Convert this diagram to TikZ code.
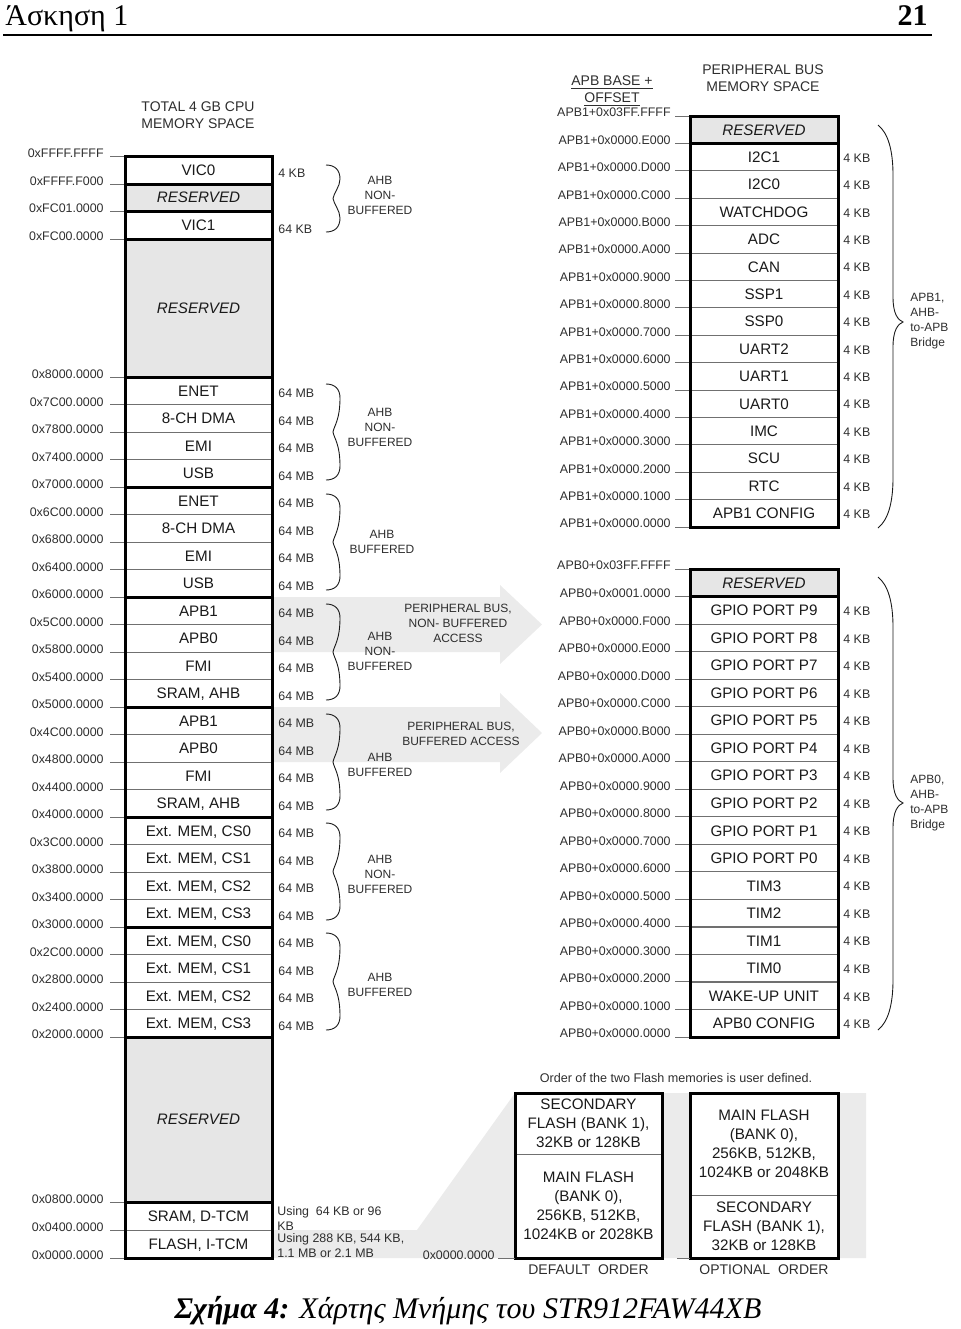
\documentclass[tikz,border=0pt]{standalone}
\usepackage{fontspec}
\setmainfont{Liberation Serif}
\setsansfont{Liberation Sans}
\usepackage{tikz}
\usetikzlibrary{arrows.meta,positioning,calc}
\definecolor{ink}{HTML}{1A1A1A}
\definecolor{labelgray}{HTML}{2E2E2E}
\definecolor{linegray}{HTML}{707070}
\definecolor{resfill}{HTML}{E6E6E6}
\definecolor{busfill}{HTML}{EBEBEB}
\tikzset{
  cell/.style={draw=linegray, line width=0.5pt, fill=white, inner sep=0pt, font=\sffamily\fontsize{7.6}{9}\selectfont, text=ink, text height=5.44pt, text depth=0pt},
  cpucell/.style={cell, minimum width=73.5pt, minimum height=13.75pt},
  apbcell/.style={cell, minimum width=74pt, minimum height=13.7pt},
  rescell/.style={fill=resfill, font=\sffamily\itshape\fontsize{7.6}{9}\selectfont},
  flashcell/.style={draw=linegray, line width=0.5pt, fill=white, inner sep=0pt, align=center, font=\sffamily\fontsize{7.6}{9.5}\selectfont, text=ink},
  groupline/.style={draw=black, line width=1.5pt},
  addrlabel/.style={font=\sffamily\fontsize{6.2}{7.5}\selectfont, text=labelgray, anchor=east, inner sep=0pt, text height=4.45pt, text depth=0pt},
  sizelabel/.style={font=\sffamily\fontsize{6.2}{7.5}\selectfont, text=labelgray, anchor=west, inner sep=0pt, text height=4.45pt, text depth=0pt},
  usagenote/.style={font=\sffamily\fontsize{6.2}{7.5}\selectfont, text=labelgray, anchor=west, inner sep=0pt, align=left},
  busnote/.style={font=\sffamily\fontsize{6}{7.5}\selectfont, text=labelgray, align=center, inner sep=0pt},
  spacehead/.style={font=\sffamily\fontsize{7}{8.5}\selectfont, text=labelgray, align=center, inner sep=0pt},
  addrtick/.style={draw=linegray, line width=0.5pt},
  bracepath/.style={draw=ink, line width=0.45pt},
  busarrow/.style={fill=busfill, draw=none}
}
\newcommand{\ahbbrace}[2]{%
  \draw[bracepath] (326,#1) .. controls (335,#1) and (340,{#1+5}) .. (340,{#1+14})
    .. controls (340,{(#1+#2)/2-12}) and (334,{(#1+#2)/2-6}) .. (333,{(#1+#2)/2})
    .. controls (334,{(#1+#2)/2+6}) and (340,{(#1+#2)/2+12}) .. (340,{#2-14})
    .. controls (340,{#2-5}) and (335,#2) .. (326,#2);}
\newcommand{\apbbrace}[3]{%
  \draw[bracepath] (878,#1) .. controls (888,{#1+8}) and (893,{#1+25}) .. (893,{#1+50})
    -- (893,{#3-25}) .. controls (893,{#3-8}) and (898,{#3-2}) .. (903,#3)
    .. controls (898,{#3+2}) and (893,{#3+8}) .. (893,{#3+25})
    -- (893,{#2-50}) .. controls (893,{#2-25}) and (888,{#2-8}) .. (878,#2);}

\begin{document}
\begin{tikzpicture}[x=0.5pt, y=-0.5pt]
  \useasboundingbox (0,0) rectangle (960,1329);

  \node[anchor=base west, inner sep=0pt, font=\fontsize{15}{17}\selectfont] (chapter) at (5,25) {Άσκηση 1};
  \node[anchor=base east, inner sep=0pt, font=\bfseries\fontsize{15}{17}\selectfont] (pageno) at (928,25) {21};
  \draw[line width=0.75pt] (3,35) -- (932,35);

  \fill[busarrow] (272,597) -- (500,597) -- (500,585) -- (542,624.5) -- (500,664) -- (500,652) -- (272,652) -- cycle;
  \fill[busarrow] (272,707) -- (500,707) -- (500,693) -- (542,733) -- (500,773) -- (500,762) -- (272,762) -- cycle;
  \fill[busarrow] (272,1230) -- (417,1230) -- (515,1093) -- (866,1093) -- (866,1258) -- (272,1258) -- cycle;

  \node[spacehead] (cpuhead) at (198,115.5) {TOTAL 4 GB CPU\\MEMORY SPACE};
  \node[spacehead] (apbhead) at (612,91.5) {\underline{APB BASE +}\\\underline{OFFSET}};
  \node[spacehead] (perihead) at (763,78.5) {PERIPHERAL BUS\\MEMORY SPACE};

  \node[cpucell, minimum height=14pt] (vic0) at (198.5,170) {VIC0};
  \node[cpucell, rescell] (cpures0) at (198.5,197.5) {RESERVED};
  \node[cpucell, minimum height=14pt] (vic1) at (198.5,225) {VIC1};
  \node[cpucell, rescell, minimum height=69pt] (cpures1) at (198.5,308) {RESERVED};
  \foreach \lbl [count=\i from 0] in {ENET,8-CH DMA,EMI,USB,ENET,8-CH DMA,EMI,USB,APB1,APB0,FMI,{SRAM, AHB},APB1,APB0,FMI,{SRAM, AHB},{Ext. MEM, CS0},{Ext. MEM, CS1},{Ext. MEM, CS2},{Ext. MEM, CS3},{Ext. MEM, CS0},{Ext. MEM, CS1},{Ext. MEM, CS2},{Ext. MEM, CS3}} {
    \node[cpucell] (ahb\i) at (198.5,{390.75+27.5*\i}) {\lbl};
    \node[sizelabel] (ahbsize\i) at (278,{393.5+27.5*\i}) {64 MB};
  }
  \node[cpucell, rescell, minimum height=82.5pt] (cpures2) at (198.5,1119.5) {RESERVED};
  \node[cpucell, minimum height=14pt] (dtcm) at (198.5,1216) {SRAM, D-TCM};
  \node[cpucell, minimum height=14pt] (itcm) at (198.5,1244) {FLASH, I-TCM};

  \foreach \a/\y [count=\k] in {0xFFFF.FFFF/156,0xFFFF.F000/184,0xFC01.0000/211,0xFC00.0000/239,0x0800.0000/1202,0x0400.0000/1230,0x0000.0000/1258} {
    \node[addrlabel] (cpuaddr\k) at (104,{\y-2.5}) {\a};
    \draw[addrtick] (110,\y) -- (125,\y);
  }
  \foreach \a [count=\i from 0] in {8000,7C00,7800,7400,7000,6C00,6800,6400,6000,5C00,5800,5400,5000,4C00,4800,4400,4000,3C00,3800,3400,3000,2C00,2800,2400,2000} {
    \node[addrlabel] (ahbaddr\i) at (104,{377+27.5*\i-2.5}) {0x\a.0000};
    \draw[addrtick] (110,{377+27.5*\i}) -- (125,{377+27.5*\i});
  }
  \foreach \y in {184,211,239,377,487,597,707,817,927,1037,1202} {
    \draw[groupline] (125,\y) -- (272,\y);
  }
  \draw[groupline] (125,156) rectangle (272,1258);

  \node[sizelabel] (vic0size) at (278,173) {4 KB};
  \node[sizelabel] (vic1size) at (278,229) {64 KB};
  \node[usagenote] (dtcmsize) at (277,1218.5) {Using\ \ 64 KB or 96\\KB};
  \node[usagenote] (itcmsize) at (277,1245.5) {Using 288 KB, 544 KB,\\1.1 MB or 2.1 MB};

  \foreach \t/\b in {165/232,384/480,494/590,604/700,714/810,823/920,933/1030} {
    \ahbbrace{\t}{\b}
  }

  \node[busnote] (vicnote) at (380,195) {AHB\\NON-\\BUFFERED};
  \node[busnote] (ahbnote1) at (380,427.5) {AHB\\NON-\\BUFFERED};
  \node[busnote] (ahbnote2) at (382,541.5) {AHB\\BUFFERED};
  \node[busnote] (ahbnote3) at (380,651.5) {AHB\\NON-\\BUFFERED};
  \node[busnote] (ahbnote4) at (380,764.5) {AHB\\BUFFERED};
  \node[busnote] (ahbnote5) at (380,874) {AHB\\NON-\\BUFFERED};
  \node[busnote] (ahbnote6) at (380,984.5) {AHB\\BUFFERED};
  \node[busnote] (perinote1) at (458,623) {PERIPHERAL BUS,\\NON- BUFFERED\\ACCESS};
  \node[busnote] (perinote2) at (461,733.5) {PERIPHERAL BUS,\\BUFFERED ACCESS};

  \node[apbcell, rescell] (apbonres) at (764,129.7) {RESERVED};
  \foreach \lbl [count=\j] in {I2C1,I2C0,WATCHDOG,ADC,CAN,SSP1,SSP0,UART2,UART1,UART0,IMC,SCU,RTC,APB1 CONFIG} {
    \node[apbcell] (apbone\j) at (764,{129.7+27.4*\j}) {\lbl};
    \node[sizelabel] (apbonesize\j) at (843,{130.5+27.4*\j}) {4 KB};
  }
  \foreach \a [count=\k from 0] in {03FF.FFFF,0000.E000,0000.D000,0000.C000,0000.B000,0000.A000,0000.9000,0000.8000,0000.7000,0000.6000,0000.5000,0000.4000,0000.3000,0000.2000,0000.1000,0000.0000} {
    \node[addrlabel] (apboneaddr\k) at (671,{116+27.4*\k-3.5}) {APB1+0x\a};
    \draw[addrtick] (675,{116+27.4*\k}) -- (690,{116+27.4*\k});
  }
  \draw[groupline] (690,143.4) -- (838,143.4);
  \draw[groupline] (690,116) rectangle (838,527);

  \node[apbcell, rescell] (apbzerores) at (764,582.8) {RESERVED};
  \foreach \lbl [count=\j] in {GPIO PORT P9,GPIO PORT P8,GPIO PORT P7,GPIO PORT P6,GPIO PORT P5,GPIO PORT P4,GPIO PORT P3,GPIO PORT P2,GPIO PORT P1,GPIO PORT P0,TIM3,TIM2,TIM1,TIM0,WAKE-UP UNIT,APB0 CONFIG} {
    \node[apbcell] (apbzero\j) at (764,{582.8+27.53*\j}) {\lbl};
    \node[sizelabel] (apbzerosize\j) at (843,{583.6+27.53*\j}) {4 KB};
  }
  \foreach \a [count=\k from 0] in {03FF.FFFF,0001.0000,0000.F000,0000.E000,0000.D000,0000.C000,0000.B000,0000.A000,0000.9000,0000.8000,0000.7000,0000.6000,0000.5000,0000.4000,0000.3000,0000.2000,0000.1000,0000.0000} {
    \node[addrlabel] (apbzeroaddr\k) at (671,{569+27.53*\k-3.5}) {APB0+0x\a};
    \draw[addrtick] (675,{569+27.53*\k}) -- (690,{569+27.53*\k});
  }
  \draw[groupline] (690,596.5) -- (838,596.5);
  \draw[groupline] (690,569) rectangle (838,1037);

  \apbbrace{125}{528}{322}
  \apbbrace{577}{1030}{803}
  \node[busnote, anchor=west, align=left] (apbonenote) at (910,321.5) {APB1,\\AHB-\\to-APB\\Bridge};
  \node[busnote, anchor=west, align=left] (apbzeronote) at (910,803) {APB0,\\AHB-\\to-APB\\Bridge};

  \node[busnote, font=\sffamily\fontsize{6.3}{7.5}\selectfont] (ordernote) at (676,1078) {Order of the two Flash memories is user defined.};
  \node[flashcell, minimum width=73.5pt, minimum height=30.5pt] (defsec) at (588.5,1123.5) {SECONDARY\\FLASH (BANK 1),\\32KB or 128KB};
  \node[flashcell, minimum width=73.5pt, minimum height=52pt] (defmain) at (588.5,1206) {MAIN FLASH\\(BANK 0),\\256KB, 512KB,\\1024KB or 2028KB};
  \node[flashcell, minimum width=74pt, minimum height=51pt] (optmain) at (764,1144) {MAIN FLASH\\(BANK 0),\\256KB, 512KB,\\1024KB or 2048KB};
  \node[flashcell, minimum width=74pt, minimum height=31.5pt] (optsec) at (764,1226.5) {SECONDARY\\FLASH (BANK 1),\\32KB or 128KB};
  \draw[groupline] (515,1093) rectangle (662,1258);
  \draw[groupline] (690,1093) rectangle (838,1258);
  \node[addrlabel] (flashaddr) at (495,1255.5) {0x0000.0000};
  \draw[addrtick] (498,1258) -- (515,1258);
  \draw[addrtick] (677,1258) -- (690,1258);
  \node[spacehead] (deforder) at (588.5,1270) {DEFAULT\ \ ORDER};
  \node[spacehead] (optorder) at (764,1270) {OPTIONAL\ \ ORDER};

  \node[inner sep=0pt, font=\itshape\fontsize{15}{17}\selectfont] (caption) at (468,1311) {\textbf{Σχήμα 4:} Χάρτης Μνήμης του STR912FAW44XB};
\end{tikzpicture}
\end{document}
